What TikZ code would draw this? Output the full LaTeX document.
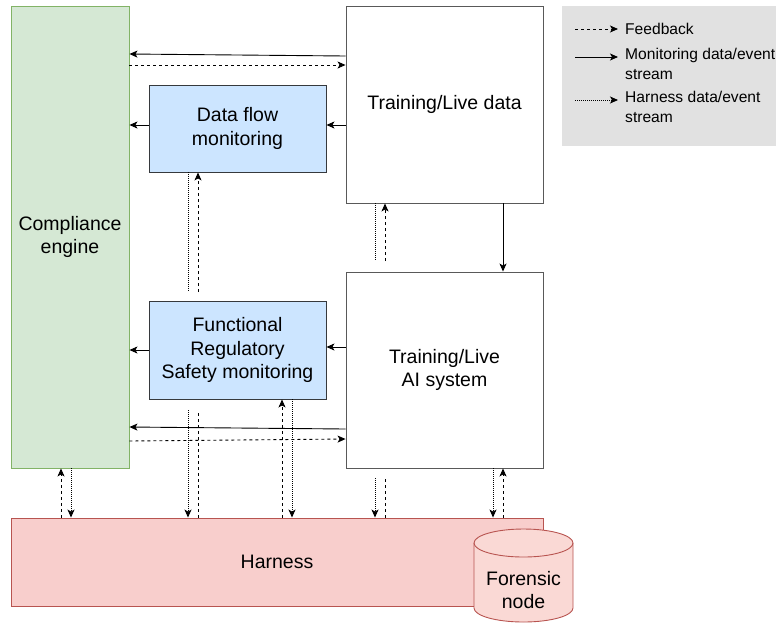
\documentclass[tikz,border=0pt]{standalone}
\usepackage{fontspec}
\setmainfont{Liberation Sans}
\usetikzlibrary{arrows.meta,calc}
\definecolor{cgreen}{HTML}{D5E8D4}
\definecolor{cgreenD}{HTML}{82B366}
\definecolor{cblue}{HTML}{CCE5FF}
\definecolor{cblueD}{HTML}{36393D}
\definecolor{cred}{HTML}{F8CECC}
\definecolor{credD}{HTML}{B85450}
\definecolor{cpink}{HTML}{FAD9D5}
\definecolor{clegend}{HTML}{E1E1E1}
\tikzset{
  box/.style={draw=black!65, fill=white, line width=0.9pt, align=center, inner sep=0pt,
    font=\fontsize{19.5}{23.5}\selectfont},
  tip/.style={-{Stealth[length=8pt,width=7pt,inset=2pt]}},
  mon/.style={tip, line width=0.9pt},
  fb/.style={tip, line width=0.9pt, dash pattern=on 3pt off 3pt},
  hs/.style={tip, line width=0.9pt, dash pattern=on 1pt off 1pt},
  fbline/.style={line width=0.9pt, dash pattern=on 3pt off 3pt},
  hsline/.style={line width=0.9pt, dash pattern=on 1pt off 1pt},
  legtext/.style={font=\fontsize{15.6}{20}\selectfont, align=left, inner sep=0pt}
}
\begin{document}
\begin{tikzpicture}[x=1pt,y=-1pt]
\useasboundingbox (0,0) rectangle (776,625);
% legend
\fill[clegend] (562,6) rectangle (776,146);
\coordinate (l1a) at (575,29); \coordinate (l1b) at (618,29);
\coordinate (l2a) at (575,57); \coordinate (l2b) at (618,57);
\coordinate (l3a) at (575,100); \coordinate (l3b) at (618,100);
\draw[fb] (l1a) -- (l1b);
\draw[mon] (l2a) -- (l2b);
\draw[hs] (l3a) -- (l3b);
\node[legtext, anchor=west] (lt1) at (625,29) {Feedback};
\node[legtext, anchor=north west] (lt2) at (625,48) {Monitoring data/event\\stream};
\node[legtext, anchor=north west] (lt3) at (625,91) {Harness data/event\\stream};

% main nodes
\node[box, draw=cgreenD, fill=cgreen, minimum width=118pt, minimum height=462pt] (ce) at (70,237) {Compliance\\engine};
\node[box, minimum width=197pt, minimum height=197pt] (tld) at (444.5,104.5) {Training/Live data};
\node[box, draw=cblueD, fill=cblue, minimum width=177pt, minimum height=87pt] (dfm) at (237.5,128.5) {Data flow\\monitoring};
\node[box, draw=cblueD, fill=cblue, minimum width=177pt, minimum height=98pt] (func) at (237.5,350) {Functional\\Regulatory\\Safety monitoring};
\node[box, minimum width=197pt, minimum height=196pt] (ais) at (444.5,370) {Training/Live\\AI system};
\node[box, draw=credD, fill=cred, minimum width=532pt, minimum height=88pt] (har) at (277,562) {Harness};

% forensic cylinder
\filldraw[fill=cpink, draw=credD, line width=0.9pt]
  (474,543) -- (474,608) arc[start angle=180, end angle=360, x radius=49.5pt, y radius=14pt]
  -- (573,543) arc[start angle=0, end angle=180, x radius=49.5pt, y radius=14pt] -- cycle;
\draw[credD, line width=0.9pt] (474,543) arc[start angle=180, end angle=360, x radius=49.5pt, y radius=14pt];
\node[box, draw=none, fill=none] (fn) at (523.5,590) {Forensic\\node};

% monitoring streams
\draw[mon] (tld.west |- 0,56) -- (ce.east |- 0,54);
\draw[fb] (ce.east |- 0,65) -- (tld.west |- 0,65);
\draw[mon] (dfm.west |- 0,125) -- (ce.east |- 0,125);
\draw[mon] (tld.west |- 0,125) -- (dfm.east |- 0,125);
\draw[mon] (tld.south -| 503,0) -- (ais.north -| 503,0);
\draw[mon] (ais.west |- 0,347) -- (func.east |- 0,347);
\draw[mon] (func.west |- 0,350) -- (ce.east |- 0,350);
\draw[mon] (ais.west |- 0,429) -- (ce.east |- 0,427);
\draw[fb] (ce.east |- 0,441) -- (ais.west |- 0,439);

% data flow monitoring <-> harness
\draw[hsline] (dfm.south -| 188,0) -- (188,292);
\draw[hs] (188,410) -- (har.north -| 188,0);
\draw[fb] (198,292) -- (dfm.south -| 198,0);
\draw[fbline] (har.north -| 198,0) -- (198,410);

% training data <-> harness
\draw[hsline] (tld.south -| 375,0) -- (375,261);
\draw[hs] (375,478) -- (har.north -| 375,0);
\draw[fb] (385,261) -- (tld.south -| 385,0);
\draw[fbline] (har.north -| 385,0) -- (385,478);

% functional <-> harness
\draw[fb] (har.north -| 282,0) -- (func.south -| 282,0);
\draw[hs] (func.south -| 292,0) -- (har.north -| 292,0);

% AI system <-> harness
\draw[hs] (ais.south -| 493,0) -- (har.north -| 493,0);
\draw[fb] (har.north -| 503,0) -- (ais.south -| 503,0);

% compliance <-> harness
\draw[fb] (har.north -| 61,0) -- (ce.south -| 61,0);
\draw[hs] (ce.south -| 71,0) -- (har.north -| 71,0);
\end{tikzpicture}
\end{document}
